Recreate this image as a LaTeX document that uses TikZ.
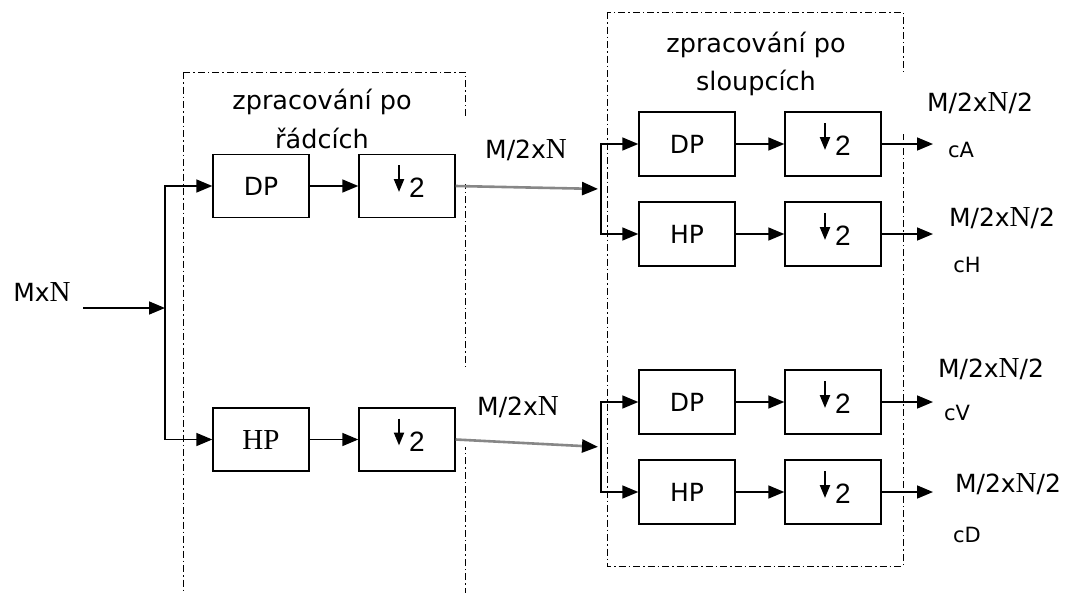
\documentclass[tikz,border=0pt]{standalone}
\usepackage{fontspec}
\setmainfont{DejaVu Sans}
\newfontfamily\patkove{Liberation Serif}
\newfontfamily\tenke{Liberation Sans}
\usetikzlibrary{arrows.meta,calc}
\newcommand{\Nser}{{\patkove\fontsize{29}{29}\selectfont N}}

\begin{document}
\begin{tikzpicture}[x=1pt,y=-1pt,>={Triangle[length=16pt,width=13pt]},
  font=\fontsize{25}{28}\selectfont,
  blok/.style={draw,line width=1.4pt,minimum width=96pt,minimum height=63pt,inner sep=0pt},
  ramec/.style={draw,line width=1pt,dash pattern=on 7pt off 3pt on 1.5pt off 3pt},
  nadpis/.style={align=center,font=\fontsize{25.5}{38.5}\selectfont},
  popis/.style={fill=white,inner sep=0pt},
  maly/.style={font=\fontsize{21}{22}\selectfont},
  spoj/.style={->,line width=1.6pt},
  sedy/.style={-{Triangle[length=16pt,width=13pt,color=black]},line width=2.6pt,draw=black!47}]
\useasboundingbox (0,0) rectangle (1066,592);
\clip (0,0) rectangle (1066,592);

% ramce zpracovani
\draw[ramec] (183,72) rectangle (465,620);
\draw[ramec] (607,12) rectangle (903,566);
\node[nadpis] (radky) at (322,119) {zpracování po\\řádcích};
\node[nadpis] (sloupce) at (756,64) {zpracování po\\sloupcích};

% popisy
\node (mxn) at (42,292) {Mx\Nser};
\node[popis,minimum width=128pt,minimum height=68pt] (m2nA) at (526,150) {M/2x\Nser};
\node[popis,minimum width=124pt,minimum height=80pt] (m2nB) at (518,407) {M/2x\Nser};
\node[popis,minimum width=160pt,minimum height=62pt] (vA) at (980,103) {M/2x\Nser/2};
\node[popis] (vH) at (1002,218) {M/2x\Nser/2};
\node[popis] (vV) at (991,369) {M/2x\Nser/2};
\node[popis] (vD) at (1008,484) {M/2x\Nser/2};
\node[maly] (cA) at (961,150) {cA};
\node[maly] (cH) at (967,265) {cH};
\node[maly] (cV) at (957,413) {cV};
\node[maly] (cD) at (967,535) {cD};

% radky
\node[blok] (dp) at (261,186) {DP};
\node[blok] (pod1) at (407,186) {};
\node[blok] (hp) at (261,439.5) {\patkove\fontsize{29}{29}\selectfont HP};
\node[blok] (pod2) at (407,439.5) {};

% sloupce
\node[blok,minimum height=64pt] (dpa) at (687,144) {DP};
\node[blok,minimum height=64pt] (poda) at (833,144) {};
\node[blok,minimum height=64pt] (hpa) at (687,234) {HP};
\node[blok,minimum height=64pt] (podb) at (833,234) {};
\node[blok,minimum height=64pt] (dpb) at (687,402) {DP};
\node[blok,minimum height=64pt] (podc) at (833,402) {};
\node[blok,minimum height=64pt] (hpb) at (687,492) {HP};
\node[blok,minimum height=64pt] (podd) at (833,492) {};

% podvzorkovani
\foreach \p in {pod1,pod2,poda,podb,podc,podd}{
  \draw[-{Triangle[length=13pt,width=10pt]},line width=2.2pt] ([shift={(-8,-21)}]\p.center) -- ([shift={(-8,6)}]\p.center);
  \node[font=\tenke\fontsize{28}{28}\selectfont] (dva\p) at ([shift={(10,2)}]\p.center) {2};
}

\coordinate (vstup) at (83,308);
\coordinate (rozv) at (165,308);
\coordinate (uzelA) at (601,189);
\coordinate (uzelB) at (601,447);
\coordinate (konA) at (933,144);
\coordinate (konH) at (933,234);
\coordinate (konV) at (933,402);
\coordinate (konD) at (933,492);

\draw[spoj] (vstup) -- (rozv);
\draw[spoj] (rozv) |- (dp);
\draw[spoj] (rozv) |- (hp);
\draw[spoj] (dp) -- (pod1);
\draw[spoj] (hp) -- (pod2);
\draw[sedy,shorten >=3pt] (pod1.east) -- (uzelA);
\draw[sedy,shorten >=3pt] (pod2.east) -- (uzelB);
\draw[spoj] (uzelA) |- (dpa);
\draw[spoj] (uzelA) |- (hpa);
\draw[spoj] (uzelB) |- (dpb);
\draw[spoj] (uzelB) |- (hpb);
\draw[spoj] (dpa) -- (poda);
\draw[spoj] (hpa) -- (podb);
\draw[spoj] (dpb) -- (podc);
\draw[spoj] (hpb) -- (podd);
\draw[spoj] (poda) -- (konA);
\draw[spoj] (podb) -- (konH);
\draw[spoj] (podc) -- (konV);
\draw[spoj] (podd) -- (konD);
\end{tikzpicture}
\end{document}
